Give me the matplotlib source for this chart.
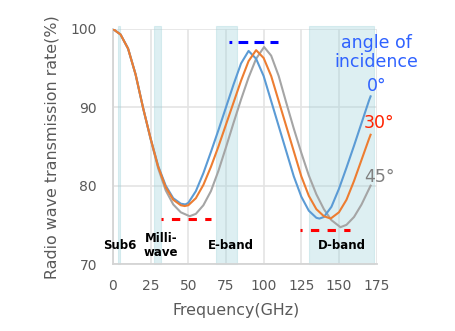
import matplotlib
matplotlib.use("Agg")
import matplotlib.pyplot as plt

plt.rcParams.update({"font.family": "DejaVu Sans", "lines.scale_dashes": False})

# transmission curves (GHz, %)
f_0 = [0, 5, 10, 15, 20, 25, 30, 35, 40, 45, 48, 50, 55, 60, 65, 70, 75, 80, 85,
       90, 95, 100, 105, 110, 115, 120, 125, 130, 135, 137, 140, 145, 150,
       155, 160, 165, 170, 171]
t_0 = [100, 99.3, 97.5, 94.2, 89.9, 86.0, 82.5, 80.0, 78.4, 77.7, 77.6, 77.8,
       79.3, 81.6, 84.3, 87.1, 90.0, 92.9, 95.6, 97.2, 96.2, 94.0, 90.8, 87.6,
       84.4, 81.2, 78.6, 76.8, 75.9, 75.8, 76.0, 77.3, 79.6, 82.3, 85.1, 88.0,
       90.9, 91.4]

f_30 = [0, 5, 10, 15, 20, 25, 30, 35, 40, 45, 47.6, 50, 55, 60, 65, 70, 75, 80,
        85, 90, 95, 100, 105, 110, 115, 120, 125, 130, 135, 140, 144.5, 150,
        155, 160, 165, 170, 171]
t_30 = [100, 99.3, 97.5, 94.2, 89.9, 86.0, 82.4, 79.8, 78.2, 77.5, 77.4, 77.5,
        78.4, 80.1, 82.4, 85.0, 87.8, 90.6, 93.4, 95.9, 97.3, 96.3, 94.0, 90.8,
        87.6, 84.4, 81.2, 78.7, 77.0, 76.1, 75.8, 76.6, 78.2, 80.6, 83.3, 86.0,
        86.5]

f_45 = [0, 5, 10, 15, 20, 25, 30, 35, 40, 45, 50.9, 55, 60, 65, 70, 75, 80, 85,
        90, 95, 100.3, 105, 110, 115, 120, 125, 130, 135, 140, 145, 151, 155,
        160, 165, 170, 171]
t_45 = [100, 99.3, 97.5, 94.2, 89.9, 85.9, 82.2, 79.4, 77.6, 76.6, 76.1, 76.4,
        77.5, 79.3, 81.9, 84.9, 88.0, 91.0, 93.8, 96.2, 97.7, 96.6, 94.0, 90.6,
        87.3, 84.2, 81.3, 78.9, 77.0, 75.6, 74.7, 75.0, 76.0, 77.6, 79.6, 80.0]

# frequency bands (GHz)
band_names = ["Sub6", "Milli-\nwave", "E-band", "D-band"]
band_lo = [3.0, 27.0, 68.5, 130.0]
band_hi = [4.6, 31.7, 82.0, 173.5]
band_label_x = [4.6, 31.7, 78.4, 151.9]

# target lines: (start, end, level)
blue_ref = (76.7, 109.4, 98.4)
red_refs = [(31.7, 64.9, 75.7), (124.2, 157.4, 74.4)]

BLUE, ORANGE, GREY = "#5b9bd5", "#ed7d31", "#a5a5a5"
TXT = "#595959"

fig = plt.figure(figsize=(4.56, 3.31), dpi=100)
ax = fig.add_axes([0.2478, 0.2024, 0.5781, 0.7100])

for lo, hi in zip(band_lo, band_hi):
    ax.axvspan(lo, hi, ymin=0, ymax=1.013, facecolor="#9fd2da", alpha=0.35,
               edgecolor="#9fd2da", lw=0.8, zorder=1, clip_on=False)

ax.plot(f_45, t_45, color=GREY, lw=1.5, zorder=3)
ax.plot(f_0, t_0, color=BLUE, lw=1.5, zorder=4)
ax.plot(f_30, t_30, color=ORANGE, lw=1.5, zorder=5)

ax.plot(blue_ref[:2], [blue_ref[2]] * 2, color="#0000ff", lw=2.2,
        ls=(5.0, (7.0, 4.5)), zorder=6, solid_capstyle="butt")
for x0, x1, lvl in red_refs:
    ax.plot([x0, x1], [lvl, lvl], color="#ff0000", lw=2.2,
            ls=(4.5, (6.0, 6.0)), zorder=6)

for name, x in zip(band_names, band_label_x):
    ax.text(x, 72.3, name, ha="center", va="center", fontsize=8.5,
            fontweight="bold", color="black", linespacing=1.1, zorder=7)

ax.text(175.1, 97.0, "angle of\nincidence", ha="center", va="center",
        fontsize=12.5, color="#2f62ff", linespacing=1.05, clip_on=False)
ax.text(175.0, 92.7, "0°", ha="center", va="center", fontsize=12.5,
        color="#2f62ff", clip_on=False)
ax.text(176.6, 88.0, "30°", ha="center", va="center", fontsize=12.5,
        color="#ff2200", clip_on=False)
ax.text(176.6, 81.1, "45°", ha="center", va="center", fontsize=12.5,
        color="#808080", clip_on=False)

ax.set_xlim(0, 175)
ax.set_ylim(70, 100)
ax.set_xticks([0, 25, 50, 75, 100, 125, 150, 175])
ax.set_yticks([70, 80, 90, 100])
ax.grid(True, color="#e4e4e4", lw=1.2, zorder=0)
ax.set_axisbelow(True)
ax.tick_params(length=0, labelsize=10, labelcolor=TXT)
ax.tick_params(axis="y", pad=11.5)
ax.tick_params(axis="x", pad=10.5)
for side in ["top", "right"]:
    ax.spines[side].set_visible(False)
for side in ["left", "bottom"]:
    ax.spines[side].set_color("#d4d4d4")
    ax.spines[side].set_linewidth(1.3)

fig.text(52 / 456, 1 - 147.5 / 331, "Radio wave transmission rate(%)",
         rotation=90, ha="center", va="center", fontsize=11.4, color=TXT)
fig.text(235.8 / 456, 1 - 310 / 331, "Frequency(GHz)", ha="center",
         va="center", fontsize=11.4, color=TXT)

fig.savefig("out.png", dpi=100)
